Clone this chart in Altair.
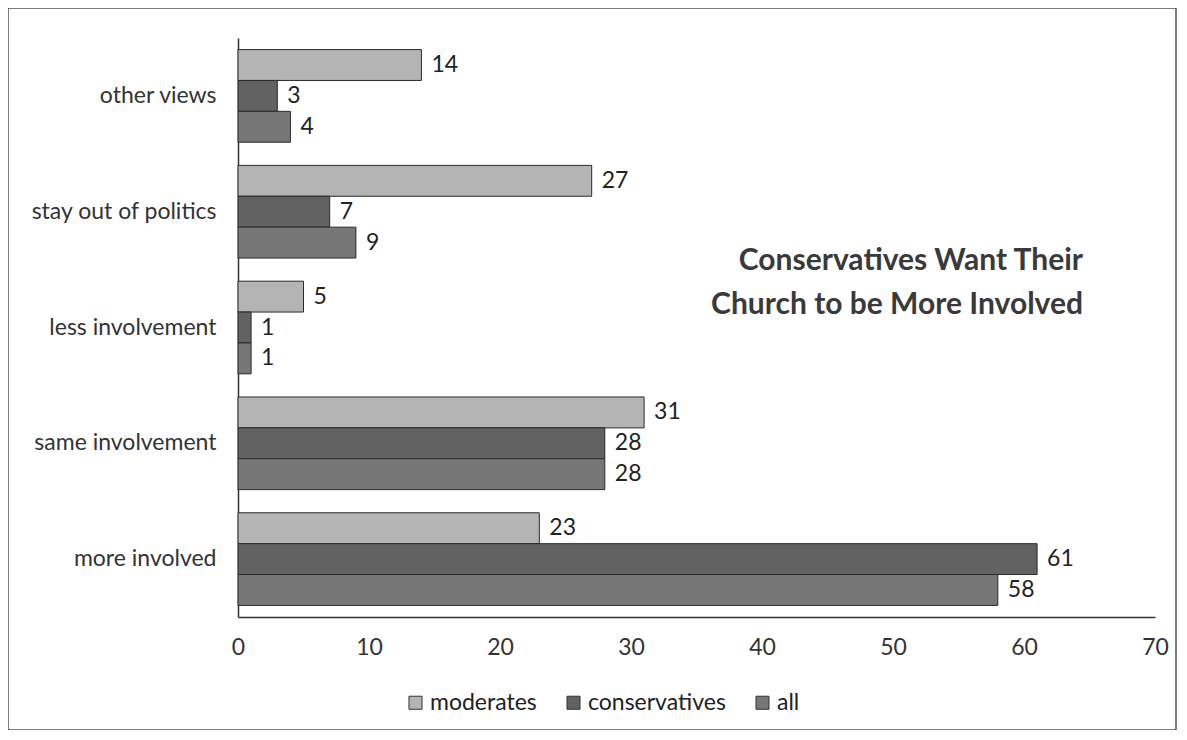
import altair as alt
import pandas as pd

categories = ["other views", "stay out of politics", "less involvement", "same involvement", "more involved"]
series = ["moderates", "conservatives", "all"]
moderates = [14, 27, 5, 31, 23]
conservatives = [3, 7, 1, 28, 61]
all_vals = [4, 9, 1, 28, 58]
x_ticks = [0, 10, 20, 30, 40, 50, 60, 70]
colors = ["#b4b4b4", "#626262", "#777777"]
title_lines = ["Conservatives Want Their", "Church to be More Involved"]

rows = []
for s, vals in zip(series, [moderates, conservatives, all_vals]):
    for c, v in zip(categories, vals):
        rows.append({"category": c, "series": s, "value": v})
df = pd.DataFrame(rows)

FONT = "Lato"
FS = 23

y_enc = alt.Y("category:N", sort=categories, title=None,
              scale=alt.Scale(paddingInner=0.2, paddingOuter=0.1),
              axis=alt.Axis(ticks=False, labelPadding=22, labelFontSize=FS, labelFont=FONT,
                            labelLimit=400, labelColor="#333333", domainColor="#333333",
                            domainWidth=1.5))
yoff = alt.YOffset("series:N", sort=series)
x_enc = alt.X("value:Q", title=None,
              scale=alt.Scale(domain=[0, 70], nice=False),
              axis=alt.Axis(values=x_ticks, grid=False, ticks=False, labelPadding=19,
                            labelFlush=False, labelFontSize=FS, labelFont=FONT,
                            labelColor="#333333", domainColor="#333333", domainWidth=1.5))

base = alt.Chart(df)
bars = base.mark_bar(stroke="#2a2a2a", strokeWidth=1).encode(
    y=y_enc, yOffset=yoff, x=x_enc,
    color=alt.Color("series:N", sort=series,
                    scale=alt.Scale(domain=series, range=colors),
                    legend=alt.Legend(title=None, orient="none", direction="horizontal",
                                      legendX=166, legendY=653, symbolType="square",
                                      symbolSize=170, symbolStrokeColor="#333333",
                                      symbolStrokeWidth=1, labelFontSize=FS, labelFont=FONT,
                                      labelColor="#222222", columnPadding=25, labelOffset=3)),
)
labels = base.mark_text(align="left", baseline="middle", dx=10, fontSize=FS, font=FONT,
                        color="#222222").encode(
    y=alt.Y("category:N", sort=categories), yOffset=yoff,
    x=alt.X("value:Q"), text=alt.Text("value:Q"))

title = alt.Chart(pd.DataFrame({"t": ["\n".join(title_lines)]})).mark_text(
    align="right", baseline="middle", fontSize=30, fontWeight="bold", font=FONT,
    color="#3a3a3a", lineBreak="\n", lineHeight=44).encode(
    x=alt.value(845), y=alt.value(223), text="t:N")

frame = alt.Chart(pd.DataFrame({"a": [0]})).mark_rect(
    fill=None, fillOpacity=0, stroke="#555555", strokeWidth=1.5).encode(
    x=alt.value(-230), x2=alt.value(938), y=alt.value(-30), y2=alt.value(692))

chart = alt.layer(frame, bars, labels, title).properties(
    width=917, height=579,
    background="white",
    autosize=alt.AutoSizeParams(type="none"),
    padding={"left": 230, "top": 30, "right": 24, "bottom": 113},
).configure_view(strokeWidth=0, stroke=None)

chart.save("out.html", embed_options={"renderer": "svg", "actions": False})
